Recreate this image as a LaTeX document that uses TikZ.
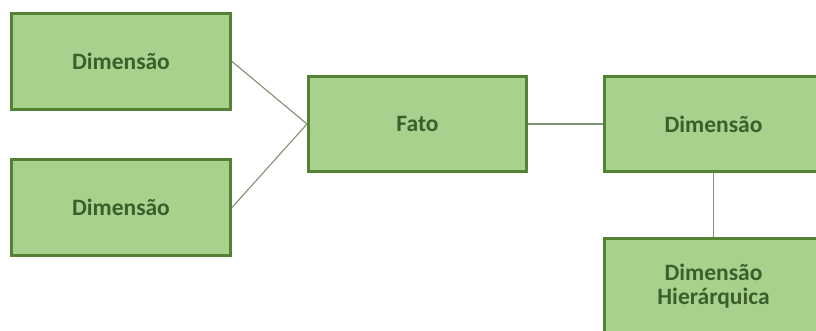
\documentclass[tikz,border=0pt]{standalone}
\usepackage{fontspec}
\setmainfont{Carlito}
\definecolor{boxfill}{HTML}{A9D18E}
\definecolor{boxline}{HTML}{548235}
\definecolor{boxtext}{HTML}{3B5E2B}
\definecolor{conn}{HTML}{7F9473}
\tikzset{
  entbox/.style={draw=boxline, line width=3pt, fill=boxfill, rectangle,
    minimum width=219pt, minimum height=96pt, inner sep=0pt,
    text=boxtext, font=\fontsize{23.5}{24}\selectfont\bfseries, align=center},
  link/.style={draw=conn, line width=1.1pt}
}
\begin{document}
\begin{tikzpicture}[x=1pt,y=-1pt]
\useasboundingbox (0,0) rectangle (816,331);
\clip (0,0) rectangle (816,331);
\fill[white] (0,0) rectangle (816,331);
\node[entbox] (d1) at (121,61.5) {Dimensão};
\node[entbox] (d2) at (121,207.5) {Dimensão};
\node[entbox, minimum width=218pt, minimum height=95pt] (fato) at (417.5,124) {Fato};
\node[entbox, minimum width=218pt, minimum height=95pt] (dr) at (713.5,124) {Dimensão};
\node[entbox, minimum width=218pt, minimum height=96pt] (dh) at (713.5,286) {Dimensão\\Hierárquica};
\draw[link] (d1.east) -- (fato.west);
\draw[link] (d2.east) -- (fato.west);
\draw[link] (fato.east) -- (dr.west);
\draw[link] (dr.south) -- (dh.north);
\end{tikzpicture}
\end{document}
